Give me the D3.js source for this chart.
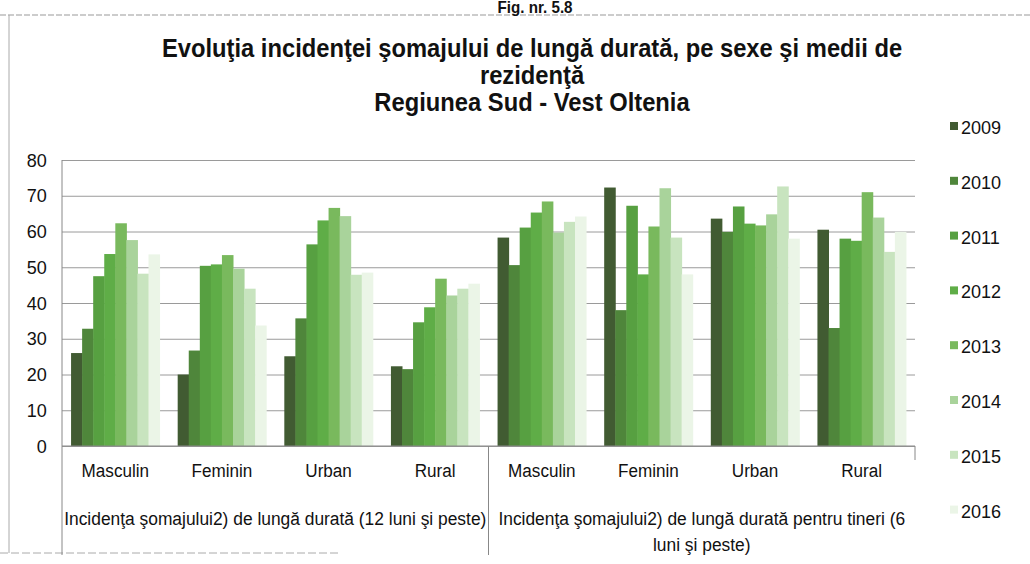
<!DOCTYPE html>
<html lang="ro">
<head>
    <meta charset="UTF-8">
    <script type="text/javascript" src="https://cdn.jsdelivr.net/npm/d3@7/dist/d3.min.js"></script>
    <title>Fig. nr. 5.8</title>
    <style>
        body { margin: 0; background: #fff; }
        text { font-family: 'Liberation Sans', Arial, sans-serif; fill: #111; }
    </style>
</head>
<body>
    <svg width='1030' height='564'></svg>
    <script>
        // date
        const categories = ['Masculin', 'Feminin', 'Urban', 'Rural', 'Masculin', 'Feminin', 'Urban', 'Rural'];
        const groups = [
            'Incidenţa şomajului2) de lungă durată (12 luni şi peste)',
            'Incidenţa şomajului2) de lungă durată pentru tineri (6|luni şi peste)'
        ];
        const years = ['2009', '2010', '2011', '2012', '2013', '2014', '2015', '2016'];
        const v2009 = [26.0, 20.0, 25.1, 22.3, 58.3, 72.3, 63.6, 60.5];
        const v2010 = [32.8, 26.7, 35.7, 21.5, 50.6, 38.0, 59.9, 33.0];
        const v2011 = [47.5, 50.4, 56.4, 34.6, 61.1, 67.2, 67.0, 58.0];
        const v2012 = [53.7, 50.8, 63.1, 38.8, 65.3, 48.0, 62.2, 57.4];
        const v2013 = [62.3, 53.4, 66.6, 46.8, 68.4, 61.4, 61.7, 71.0];
        const v2014 = [57.6, 49.6, 64.3, 42.1, 59.7, 72.1, 64.8, 63.9];
        const v2015 = [48.2, 44.0, 47.9, 44.0, 62.7, 58.3, 72.6, 54.3];
        const v2016 = [53.6, 33.7, 48.5, 45.4, 64.2, 48.0, 58.0, 59.9];
        const series = [v2009, v2010, v2011, v2012, v2013, v2014, v2015, v2016];
        const yTicks = [0, 10, 20, 30, 40, 50, 60, 70, 80];

        const colors = ['#415b32', '#4f863b', '#57a041', '#5fad47', '#79b95d', '#a9d39b', '#c8e4bf', '#ebf5e7'];

        const svg = d3.select('svg');
        const plot = { left: 62, right: 915, top: 160, bottom: 446 };

        // textul original e Arial Narrow - îl îngustăm cu scale pe x
        function narrowText(parent, x, y, str, size, sx, opts) {
            opts = opts || {};
            return parent.append('text')
                .attr('transform', `translate(${x},${y}) scale(${sx},1)`)
                .attr('text-anchor', opts.anchor || 'middle')
                .attr('font-size', size)
                .attr('font-weight', opts.bold ? 'bold' : null)
                .text(str);
        }

        // cadrul scanat al figurii
        svg.append('line').attr('x1', 0).attr('x2', 1030).attr('y1', 15).attr('y2', 15)
            .attr('stroke', '#999').attr('stroke-dasharray', '6,2');
        svg.append('line').attr('x1', 9).attr('x2', 9).attr('y1', 15).attr('y2', 553)
            .attr('stroke', '#aaa');
        svg.append('line').attr('x1', 0).attr('x2', 340).attr('y1', 553).attr('y2', 553)
            .attr('stroke', '#aaa').attr('stroke-dasharray', '8,3');

        narrowText(svg, 535, 13, 'Fig. nr. 5.8', 16, 0.95, { bold: true });

        // titlu
        const titleLines = [
            'Evoluţia incidenţei şomajului de lungă durată, pe sexe şi medii de',
            'rezidenţă',
            'Regiunea Sud - Vest Oltenia'
        ];
        const titleG = svg.append('g');
        titleLines.forEach(function(t, i) {
            narrowText(titleG, 532, 57 + i * 27, t, 25, 0.95, { bold: true });
        });

        // scale
        const x0 = d3.scaleBand()
            .domain(d3.range(categories.length))
            .range([plot.left, plot.right])
            .paddingInner(0.17)
            .paddingOuter(0.085);
        const x1 = d3.scaleBand()
            .domain(d3.range(years.length))
            .range([0, x0.bandwidth()]);
        const y = d3.scaleLinear()
            .domain([0, 80])
            .range([plot.bottom, plot.top]);

        // linii de grilă + etichete y
        const yAxis = d3.axisLeft(y)
            .tickValues(yTicks)
            .tickSize(-(plot.right - plot.left))
            .tickPadding(16)
            .tickFormat(d3.format('d'));
        const gy = svg.append('g')
            .attr('transform', `translate(${plot.left},0)`)
            .call(yAxis);
        gy.select('.domain').remove();
        gy.selectAll('.tick line').attr('stroke', '#9a9a9a');
        gy.selectAll('.tick text')
            .attr('font-size', 19)
            .attr('font-family', null)
            .attr('fill', '#111')
            .attr('transform', 'scale(0.95,1)');

        // axa verticală
        svg.append('line')
            .attr('x1', plot.left).attr('x2', plot.left)
            .attr('y1', plot.top).attr('y2', 555)
            .attr('stroke', '#888');

        // bare
        svg.append('g')
            .selectAll('g')
            .data(series)
            .enter()
            .append('g')
            .attr('fill', (d, i) => colors[i])
            .each(function(vals, si) {
                d3.select(this)
                    .selectAll('rect')
                    .data(vals)
                    .enter()
                    .append('rect')
                    .attr('x', (d, ci) => x0(ci) + x1(si))
                    .attr('y', d => y(d))
                    .attr('width', x1.bandwidth() + 0.5)
                    .attr('height', d => y(0) - y(d));
            });

        // axa categoriilor
        svg.append('line')
            .attr('x1', plot.left).attr('x2', plot.right)
            .attr('y1', plot.bottom).attr('y2', plot.bottom)
            .attr('stroke', '#888');

        const catG = svg.append('g');
        categories.forEach(function(c, i) {
            narrowText(catG, x0(i) + x0.bandwidth() / 2, 477, c, 19, 0.9);
        });

        // separator între cele două grupe
        const half = x0(4) - x0.step() * x0.paddingInner() / 2;
        svg.append('line')
            .attr('x1', half).attr('x2', half)
            .attr('y1', plot.bottom).attr('y2', 555)
            .attr('stroke', '#888');
        svg.append('line')
            .attr('x1', plot.right).attr('x2', plot.right)
            .attr('y1', plot.bottom).attr('y2', 460)
            .attr('stroke', '#888');

        const groupCenters = [(plot.left + half) / 2, (half + plot.right) / 2];
        const grpG = svg.append('g');
        groups.forEach(function(g, gi) {
            g.split('|').forEach(function(line, li) {
                narrowText(grpG, groupCenters[gi], 525 + li * 26, line, 19, 0.915);
            });
        });

        // legendă
        const legend = svg.append('g')
            .selectAll('g')
            .data(years)
            .enter()
            .append('g')
            .attr('transform', (d, i) => `translate(950, ${127 + i * 54.8})`);
        legend.append('rect')
            .attr('x', 0).attr('y', -5)
            .attr('width', 8).attr('height', 8)
            .attr('fill', (d, i) => colors[i]);
        legend.append('text')
            .attr('transform', 'translate(11,7) scale(0.95,1)')
            .attr('font-size', 19)
            .text(d => d);
    </script>
</body>
</html>
